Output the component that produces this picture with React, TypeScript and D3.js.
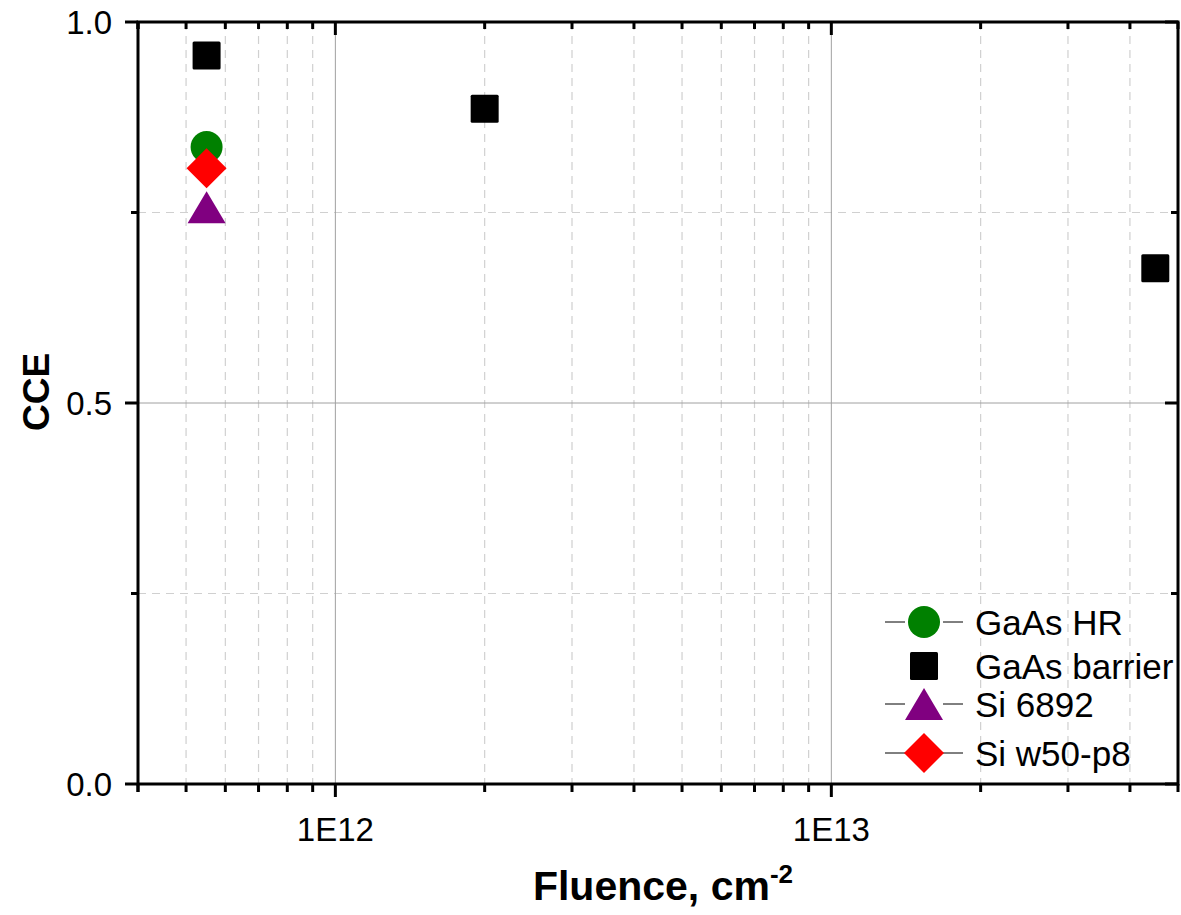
import React from "react";
import * as d3 from "d3";

// CCE vs fluence data
const seriesNames = ["GaAs HR", "GaAs barrier", "Si 6892", "Si w50-p8"];
const seriesColors = ["#008000", "#000000", "#800080", "#ff0000"];
const seriesSymbols = ["circle", "square", "triangle", "diamond"];
const seriesHasLine = [true, false, true, true];

const gaasHrFluence = [5.5e11];
const gaasHrCce = [0.836];
const gaasBarrierFluence = [5.5e11, 2e12, 4.5e13];
const gaasBarrierCce = [0.956, 0.886, 0.677];
const si6892Fluence = [5.5e11];
const si6892Cce = [0.757];
const siW50Fluence = [5.5e11];
const siW50Cce = [0.808];

const seriesX = [gaasHrFluence, gaasBarrierFluence, si6892Fluence, siW50Fluence];
const seriesY = [gaasHrCce, gaasBarrierCce, si6892Cce, siW50Cce];

const xDomain: [number, number] = [4e11, 5e13];
const yDomain: [number, number] = [0, 1];
const xMajorTicks = [1e12, 1e13];
const xTickLabels = ["1E12", "1E13"];
const yMajorTicks = [0, 0.5, 1.0];
const yMinorTicks = [0.25, 0.75];
const yTickLabels = ["0.0", "0.5", "1.0"];

const W = 1181;
const H = 915;
const M = { left: 138, right: 1178, top: 22, bottom: 784 };
const FONT = "'Liberation Sans', Arial, Helvetica, sans-serif";

function Marker({ kind, cx, cy, color }: { kind: string; cx: number; cy: number; color: string }) {
  if (kind === "circle") return <circle cx={cx} cy={cy} r={16} fill={color} />;
  if (kind === "square")
    return <rect x={cx - 14} y={cy - 14} width={28} height={28} rx={1.5} fill={color} />;
  if (kind === "triangle") {
    const hw = 19, hh = 16;
    return <path d={`M${cx},${cy - hh}L${cx + hw},${cy + hh}L${cx - hw},${cy + hh}Z`} fill={color} />;
  }
  const d = 20;
  return <path d={`M${cx},${cy - d}L${cx + d},${cy}L${cx},${cy + d}L${cx - d},${cy}Z`} fill={color} />;
}

export default function App() {
  const x = d3.scaleLog().domain(xDomain).range([M.left, M.right]);
  const y = d3.scaleLinear().domain(yDomain).range([M.bottom, M.top]);

  // minor log ticks (2..9 of each decade) inside the domain
  const xMinor: number[] = [];
  for (let e = 11; e <= 13; e++) {
    for (let m = 2; m <= 9; m++) {
      const v = m * Math.pow(10, e);
      if (v >= xDomain[0] && v <= xDomain[1] * 1.0001) xMinor.push(v);
    }
  }

  const legendY = [622, 666, 704, 753];
  const legendSymX = 924;

  return (
    <svg
      width={W}
      height={H}
      style={{ position: "absolute", left: 0, top: 0, background: "#fff" }}
      fontFamily={FONT}
    >
      <rect x={0} y={0} width={W} height={H} fill="#fff" />
      {/* minor grid */}
      <g stroke="#d0d0d0" strokeWidth={1.2} strokeDasharray="8,6">
        {xMinor.map((v, i) => (
          <line key={"gx" + i} x1={x(v)} x2={x(v)} y1={M.top} y2={M.bottom} />
        ))}
        {yMinorTicks.map((v, i) => (
          <line key={"gy" + i} x1={M.left} x2={M.right} y1={y(v)} y2={y(v)} />
        ))}
      </g>
      {/* major grid */}
      <g stroke="#a0a0a0" strokeWidth={1}>
        {xMajorTicks.map((v, i) => (
          <line key={"Gx" + i} x1={x(v)} x2={x(v)} y1={M.top} y2={M.bottom} />
        ))}
        {yMajorTicks
          .filter((v) => v > yDomain[0] && v < yDomain[1])
          .map((v, i) => (
            <line key={"Gy" + i} x1={M.left} x2={M.right} y1={y(v)} y2={y(v)} />
          ))}
      </g>

      {/* data markers */}
      {seriesNames.map((name, si) => (
        <g key={name}>
          {seriesX[si].map((fx, pi) => (
            <Marker
              key={pi}
              kind={seriesSymbols[si]}
              cx={x(fx)}
              cy={y(seriesY[si][pi])}
              color={seriesColors[si]}
            />
          ))}
        </g>
      ))}

      {/* ticks */}
      <g stroke="#000" strokeWidth={3}>
        {xMajorTicks.map((v, i) => (
          <g key={"tx" + i}>
            <line x1={x(v)} x2={x(v)} y1={M.bottom} y2={M.bottom + 13} />
            <line x1={x(v)} x2={x(v)} y1={M.top} y2={M.top + 13} />
          </g>
        ))}
        {[xDomain[0], ...xMinor].map((v, i) => (
          <g key={"mx" + i}>
            <line x1={x(v)} x2={x(v)} y1={M.bottom} y2={M.bottom + 8} />
            <line x1={x(v)} x2={x(v)} y1={M.top} y2={M.top + 7} />
          </g>
        ))}
        {yMajorTicks.map((v, i) => (
          <g key={"ty" + i}>
            <line x1={M.left - 13} x2={M.left} y1={y(v)} y2={y(v)} />
            <line x1={M.right - 13} x2={M.right} y1={y(v)} y2={y(v)} />
          </g>
        ))}
        {yMinorTicks.map((v, i) => (
          <g key={"my" + i}>
            <line x1={M.left - 7} x2={M.left} y1={y(v)} y2={y(v)} />
            <line x1={M.right - 7} x2={M.right} y1={y(v)} y2={y(v)} />
          </g>
        ))}
      </g>

      {/* frame */}
      <rect
        x={M.left}
        y={M.top}
        width={M.right - M.left}
        height={M.bottom - M.top}
        fill="none"
        stroke="#000"
        strokeWidth={3}
      />

      {/* tick labels */}
      <g fontSize={33} fill="#000">
        {xMajorTicks.map((v, i) => (
          <text key={"lx" + i} x={x(v)} y={841} textAnchor="middle">
            {xTickLabels[i]}
          </text>
        ))}
        {yMajorTicks.map((v, i) => (
          <text key={"ly" + i} x={112} y={y(v)} textAnchor="end" dominantBaseline="central">
            {yTickLabels[i]}
          </text>
        ))}
      </g>

      {/* axis titles */}
      <text x={663} y={900} textAnchor="middle" fontSize={41} fontWeight="bold">
        Fluence, cm
        <tspan fontSize={26} dy={-17}>-2</tspan>
      </text>
      <text
        transform={`translate(49,392) rotate(-90)`}
        textAnchor="middle"
        fontSize={37}
        fontWeight="bold"
      >
        CCE
      </text>

      {/* legend */}
      {seriesNames.map((name, si) => (
        <g key={"lg" + si}>
          {seriesHasLine[si] && (
            <g stroke="#000" strokeWidth={1}>
              <line x1={885} x2={905} y1={legendY[si]} y2={legendY[si]} />
              <line x1={943} x2={963} y1={legendY[si]} y2={legendY[si]} />
            </g>
          )}
          <Marker kind={seriesSymbols[si]} cx={legendSymX} cy={legendY[si]} color={seriesColors[si]} />
          <text x={975} y={legendY[si]} fontSize={35} dominantBaseline="central">
            {name}
          </text>
        </g>
      ))}
    </svg>
  );
}
